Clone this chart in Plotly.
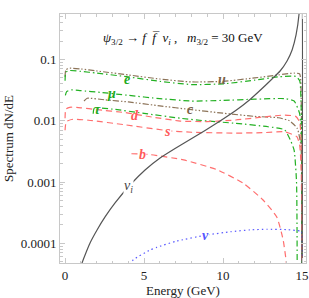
import math
import plotly.graph_objects as go

# ---------------- data ----------------
u_E = [0.0, 0.05, 0.3, 1.0, 2.0, 4.0, 6.0, 8.0, 10.0, 12.0, 13.5, 14.5, 14.85, 14.95, 15.0]
u_v = [0.052, 0.068, 0.072, 0.070, 0.065, 0.056, 0.048, 0.043, 0.044, 0.050, 0.056, 0.060, 0.058, 0.02, 1e-6]

e_E = [0.0, 0.05, 0.3, 1.0, 2.0, 4.0, 6.0, 8.0, 10.0, 12.0, 13.5, 14.6, 14.85, 14.95, 15.0]
e_v = [0.045, 0.062, 0.066, 0.064, 0.060, 0.052, 0.044, 0.039, 0.040, 0.046, 0.052, 0.053, 0.045, 0.015, 1e-6]

mu_E = [0.02, 0.1, 0.4, 1.0, 2.3, 4.0, 6.0, 8.0, 10.0, 12.0, 13.9, 14.5, 14.85, 14.95, 15.0]
mu_v = [0.026, 0.030, 0.032, 0.031, 0.029, 0.026, 0.023, 0.021, 0.0215, 0.0225, 0.023, 0.021, 0.013, 0.004, 1e-6]

c_E = [1.2, 1.4, 2.5, 4.0, 6.0, 8.0, 10.0, 12.0, 13.5, 14.2, 14.7, 14.95, 15.0]
c_v = [0.021, 0.0233, 0.022, 0.0203, 0.0175, 0.0152, 0.0133, 0.0118, 0.0112, 0.0100, 0.0075, 0.0035, 1e-6]

tau_E = [1.78, 1.85, 3.0, 5.0, 7.3, 9.0, 10.8, 12.85, 13.9, 14.3, 14.5, 14.65, 14.7]
tau_v = [0.013, 0.016, 0.0155, 0.0132, 0.011, 0.0099, 0.0091, 0.0080, 0.0071, 0.0046, 0.0033, 0.001, 1e-6]

d_E = [0.0, 0.05, 0.3, 1.0, 2.0, 3.8, 5.5, 7.3, 9.0, 10.8, 12.5, 13.9, 14.6, 14.85, 14.95, 15.0]
d_v = [0.011, 0.0155, 0.0166, 0.0163, 0.0152, 0.0136, 0.0115, 0.0099, 0.0097, 0.0103, 0.0115, 0.0124, 0.0118, 0.0095, 0.004, 1e-6]

s_E = [0.0, 0.08, 0.5, 1.5, 3.8, 6.5, 8.0, 10.8, 12.5, 13.9, 14.67, 14.85, 14.95, 15.0]
s_v = [0.007, 0.0097, 0.0106, 0.0102, 0.0086, 0.0069, 0.0065, 0.0063, 0.0064, 0.0066, 0.0055, 0.004, 0.0015, 1e-6]

b_E = [4.2, 5.4, 7.5, 9.6, 11.3, 12.5, 13.4, 13.8, 14.0, 14.1, 14.15]
b_v = [0.0029, 0.0028, 0.0023, 0.0016, 0.00095, 0.00052, 0.00027, 0.000115, 0.00005, 0.00002, 1e-6]

nui_E = [0.95, 1.076, 1.266, 1.582, 2.025, 2.532, 3.165, 4.114, 5.063, 6.013, 6.962, 7.911, 8.861,
         9.81, 10.76, 11.71, 12.47, 13.10, 13.61, 14.05, 14.37, 14.62, 14.81, 14.95, 14.97, 14.97]
nui_v = [3.5e-5, 4.79e-5, 6.47e-5, 1.016e-4, 1.656e-4, 2.70e-4, 4.56e-4, 8.97e-4, 1.575e-3, 2.47e-3, 3.53e-3,
         4.95e-3, 6.95e-3, 9.93e-3, 0.01445, 0.0223, 0.0336, 0.0481, 0.0649, 0.0946, 0.143, 0.251, 0.552,
         3.0, 3.0, 1e-6]

nu_E = [4.1, 4.32, 5.38, 5.8, 7.0, 8.97, 10.5, 11.7, 12.77, 14.0, 14.87, 14.95, 15.0]
nu_v = [4.5e-5, 5.4e-5, 7.8e-5, 8.6e-5, 1.08e-4, 1.37e-4, 1.55e-4, 1.66e-4, 1.7e-4, 1.68e-4, 1.6e-4, 1.6e-4, 1e-6]

y_tickvals = [1e-4, 1e-3, 1e-2, 1e-1]
y_ticktext = ["0.0001", "0.001", "0.01", "0.1"]
x_tickvals = [0, 5, 10, 15]
x_ticktext = ["0", "5", "10", "15"]

# labels: (text, E, value, colour, white background)
labels = [
    ("<b><i>e</i></b>", 3.92, 0.048, "#22aa22", False),
    ("<b><i>u</i></b>", 9.94, 0.0463, "#7a6248", False),
    ("<b><i>μ</i></b>", 2.97, 0.0274, "#22aa22", False),
    ("<b><i>c</i></b>", 7.91, 0.015, "#7a6248", False),
    ("<b><i>τ</i></b>", 2.03, 0.015, "#22aa22", False),
    ("<b><i>d</i></b>", 4.43, 0.012, "#ff5a5a", False),
    ("<b><i>s</i></b>", 6.46, 0.0068, "#ff5a5a", True),
    ("<b><i>b</i></b>", 4.87, 0.00287, "#ff5a5a", True),
    ("<i>ν<sub>i</sub></i>", 3.99, 0.00086, "#444444", True),
    ("<b><i>ν</i></b>", 8.92, 0.000132, "#5555ff", True),
]

# ---------------- styles ----------------
BROWN = "#8c7358"
GREEN = "#22b022"
RED = "#ff6e6e"
BLUE = "#5a5aff"
BLACK = "#555555"
DASHDOTDOT = "6px,2px,1.5px,2px,1.5px,2px"
DASHDOT = "6px,3px,1.5px,3px"
DASHED = "6px,4px"
DOTTED = "1.5px,3px"

series = [
    (u_E, u_v, BROWN, DASHDOTDOT),
    (e_E, e_v, GREEN, DASHDOT),
    (mu_E, mu_v, GREEN, DASHDOT),
    (c_E, c_v, BROWN, DASHDOTDOT),
    (tau_E, tau_v, GREEN, DASHDOT),
    (d_E, d_v, RED, DASHED),
    (s_E, s_v, RED, DASHED),
    (b_E, b_v, RED, DASHED),
    (nu_E, nu_v, BLUE, DOTTED),
    (nui_E, nui_v, BLACK, "solid"),
]

fig = go.Figure()
for xs, ys, col, dash in series:
    fig.add_trace(go.Scatter(x=xs, y=ys, mode="lines",
                             line=dict(color=col, width=1.2, dash=dash, shape="spline", smoothing=0.5),
                             showlegend=False, hoverinfo="skip"))

FONT = "Liberation Serif"
for txt, ex, vy, col, bg in labels:
    fig.add_annotation(x=ex, y=math.log10(vy), yref="y", xref="x", text=txt, showarrow=False,
                       bgcolor="white" if bg else None, borderpad=0,
                       font=dict(family=FONT, size=14, color=col))

fig.add_annotation(xref="paper", yref="paper", x=0.5, y=0.9036, yanchor="middle", xanchor="center",
                   text="<i>ψ</i><sub>3/2</sub> → <i>f</i>  <i>f̅</i>  <i>ν<sub>i</sub></i> ,   <i>m</i><sub>3/2</sub> = 30 GeV",
                   showarrow=False, font=dict(family=FONT, size=13, color="#111"))

axis_common = dict(showline=True, linecolor="#c8c8c8", linewidth=1, mirror="ticks",
                   ticks="inside", tickcolor="#c8c8c8", showgrid=False, zeroline=False,
                   tickfont=dict(family=FONT, size=13, color="#222"))

fig.update_xaxes(range=[-0.32, 15.25], tickmode="array", tickvals=x_tickvals, ticktext=x_ticktext,
                 ticklen=5, ticklabelstandoff=0,
                 minor=dict(ticks="inside", ticklen=2.5, tickcolor="#c8c8c8", tickvals=list(range(0, 16))),
                 title=dict(text="Energy (GeV)", font=dict(family=FONT, size=13, color="#222"), standoff=6),
                 **axis_common)

minor_y = [m * 10.0 ** k for k in range(-5, 0) for m in range(2, 10)]
fig.update_yaxes(type="log", range=[-4.32, -0.258], tickmode="array", tickvals=y_tickvals, ticktext=y_ticktext,
                 ticklen=5,
                 minor=dict(ticks="inside", ticklen=2.5, tickcolor="#c8c8c8", tickvals=minor_y),
                 title=dict(text="Spectrum dN/dE", font=dict(family=FONT, size=13, color="#222"), standoff=4),
                 **axis_common)

fig.update_layout(width=309, height=298, margin=dict(l=60, r=3, t=14, b=35, autoexpand=False),
                  paper_bgcolor="white", plot_bgcolor="white")

fig.write_html("out.html", config={"displayModeBar": False},
               post_script="document.body.style.margin='0';document.body.style.overflow='hidden';")
